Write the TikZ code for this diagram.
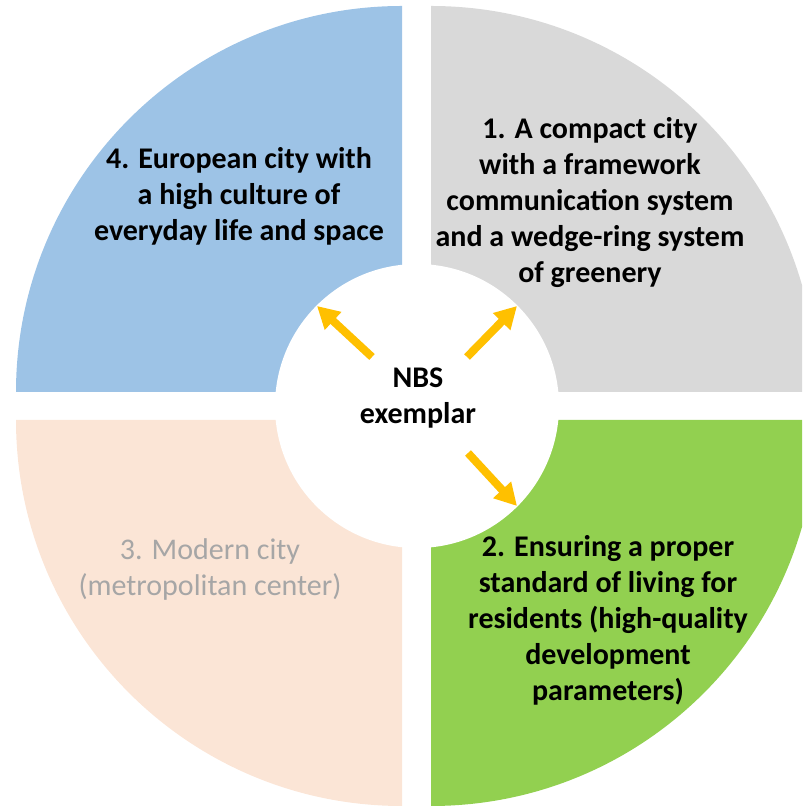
\documentclass[tikz,border=0pt]{standalone}
\usepackage{fontspec}
\setmainfont{Carlito}
\usetikzlibrary{arrows.meta}
\definecolor{quartblue}{HTML}{9DC3E6}
\definecolor{quartgrey}{HTML}{D9D9D9}
\definecolor{quartpeach}{HTML}{FBE5D6}
\definecolor{quartgreen}{HTML}{92D050}
\definecolor{arrowyellow}{HTML}{FFC000}
\definecolor{softgrey}{HTML}{A6A6A6}
\tikzstyle{boldtext} = [align=center, text=black, font=\bfseries\fontsize{15}{18}\selectfont]
\tikzstyle{softtext} = [align=center, text=softgrey, font=\fontsize{15}{18}\selectfont]
\tikzstyle{hub} = [circle, fill=white, minimum size=142pt, inner sep=0pt]
\tikzstyle{arrow} = [line width=4pt, draw=arrowyellow, -{Triangle[width=11.5pt,length=11pt]}]

\begin{document}
\begin{tikzpicture}[x=0.5pt, y=0.5pt]
				\useasboundingbox (0,0) rectangle (802,807);
				\clip (0,0) rectangle (802,807);
				% four quarters, pulled apart
				\fill [quartblue]  (402,415) -- ++(180:386) arc (180:90:386) -- cycle;
				\fill [quartgrey]  (431,415) -- ++(90:386) arc (90:0:386) -- cycle;
				\fill [quartgreen] (431,387) -- ++(0:386) arc (0:-90:386) -- cycle;
				\fill [quartpeach] (402,387) -- ++(270:386) arc (270:180:386) -- cycle;
				\node (hub) [hub] at (417,401) {};

				\node (q4) [boldtext] at (239,611) {4. European city with\\a high culture of\\everyday life and space};
				\node (q1) [boldtext] at (590,604) {1. A compact city\\with a framework\\communication system\\and a wedge-ring system\\of greenery};
				\node (q2) [boldtext] at (608,187) {2. Ensuring a proper\\standard of living for\\residents (high-quality\\development\\parameters)};
				\node (q3) [softtext] at (210,237) {3. Modern city\\(metropolitan center)};
				\node (nbs) [boldtext] at (418,409) {NBS\\exemplar};

				\coordinate (from4) at (372,450);
				\coordinate (to4) at (317,501);
				\coordinate (from1) at (467,450);
				\coordinate (to1) at (517,501);
				\coordinate (from2) at (468,354);
				\coordinate (to2) at (517,301);

				\draw [arrow] (from4) -- (to4);
				\draw [arrow] (from1) -- (to1);
				\draw [arrow] (from2) -- (to2);
\end{tikzpicture}
\end{document}
